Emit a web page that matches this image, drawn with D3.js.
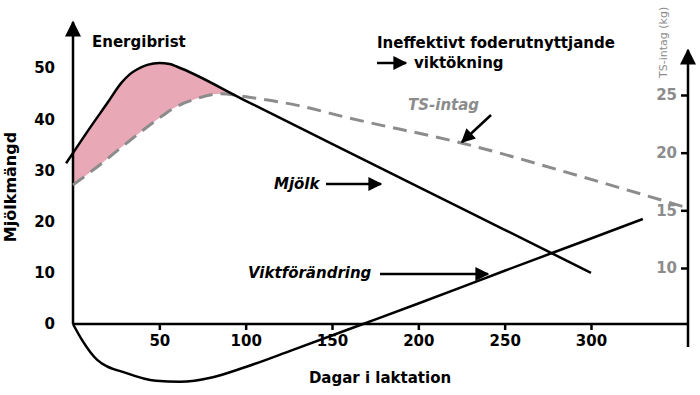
<!DOCTYPE html>
<html><head><meta charset="utf-8">
<script src="https://cdn.jsdelivr.net/npm/d3@7"></script>
<style>
body{margin:0;background:#fff;}
svg{display:block;font-family:"DejaVu Sans",sans-serif;}
</style></head>
<body>
<svg id="c" width="700" height="395"></svg>
<script>
// ---- data ----
const xTicks = [50,100,150,200,250,300];
const yLeftTicks = [0,10,20,30,40,50];
const yRightTicks = [10,15,20,25];
// Milk yield (left axis), [day, value]
const milkDays   = [-4, 0, 10, 20, 28, 33, 37, 43, 50, 56, 60, 100, 150, 200, 250, 300];
const milkValues = [31.4, 33.4, 38.4, 43.2, 47.1, 48.8, 49.7, 50.6, 51.0, 50.8, 50.3, 43.6, 35.2, 26.8, 18.4, 10];
// Dry matter intake (right axis, kg)
const tsDays   = [0, 16, 30, 50, 60, 70, 85, 102, 130, 160, 226, 295, 354];
const tsValues = [17.2, 19.0, 20.7, 23.0, 24.0, 24.6, 25.1, 24.8, 24.1, 23.0, 20.8, 17.9, 15.3];
// Weight change (left axis units)
const wDays   = [0, 5, 14, 31, 48, 62, 81, 100, 127, 168, 200, 250, 300, 330];
const wValues = [0, -3.0, -7.0, -9.6, -11.1, -11.3, -10.4, -8.4, -5.1, 0, 4.0, 10.4, 16.7, 20.5];

const svg = d3.select("#c");
const x  = d3.scaleLinear().domain([0,300]).range([73,591]);
const yL = d3.scaleLinear().domain([0,50]).range([324,68]);
const yR = d3.scaleLinear().domain([10,25]).range([268,95]);
const gray = "#8c8c8c";

const defs = svg.append("defs");
function marker(id, color, w, h){
  defs.append("marker").attr("id",id).attr("viewBox","0 0 10 10")
    .attr("refX",9).attr("refY",5).attr("markerWidth",w).attr("markerHeight",h)
    .attr("markerUnits","userSpaceOnUse").attr("orient","auto")
    .append("path").attr("d","M0,0L10,5L0,10Z").attr("fill",color);
}
marker("ah","#000",16,14);
marker("axh","#000",18,16);

const milk = milkDays.map((d,i)=>[d,milkValues[i]]);
const ts   = tsDays.map((d,i)=>[d,tsValues[i]]);
const wt   = wDays.map((d,i)=>[d,wValues[i]]);

// pink area between milk (upper) and TS intake (lower)
defs.append("clipPath").attr("id","belowMilk").append("path")
  .attr("d", d3.area().x(d=>x(d[0])).y0(400).y1(d=>yL(d[1])).curve(d3.curveMonotoneX)(milk));
svg.append("path").attr("clip-path","url(#belowMilk)")
  .attr("d", d3.area().x(d=>x(d[0])).y0(0).y1(d=>yR(d[1])).curve(d3.curveMonotoneX)(ts.filter(d=>d[0]<=102)))
  .attr("fill","#e8a8b6");

// axes
const gx = svg.append("g").attr("transform","translate(0,324)")
  .call(d3.axisBottom(x).tickValues(xTicks).tickSize(6).tickPadding(5));
gx.select(".domain").remove();
svg.append("line").attr("x1",73).attr("x2",688).attr("y1",324).attr("y2",324).attr("stroke","#000").attr("stroke-width",2.5);

const gl = svg.append("g").attr("transform","translate(73,0)")
  .call(d3.axisLeft(yL).tickValues(yLeftTicks).tickSize(0).tickPadding(18));
gl.select(".domain").remove();
svg.append("line").attr("x1",73).attr("x2",73).attr("y1",324).attr("y2",22)
  .attr("stroke","#000").attr("stroke-width",2.5).attr("marker-end","url(#axh)");

const gr = svg.append("g").attr("transform","translate(688,0)")
  .call(d3.axisLeft(yR).tickValues(yRightTicks).tickSize(7).tickPadding(4));
gr.select(".domain").remove();
svg.append("line").attr("x1",688).attr("x2",688).attr("y1",347).attr("y2",50)
  .attr("stroke","#000").attr("stroke-width",2.5).attr("marker-end","url(#axh)");

[gx,gl,gr].forEach(g=>{
  g.selectAll("text").attr("font-family","DejaVu Sans").attr("font-weight","bold").attr("font-size",15);
  g.selectAll(".tick line").attr("stroke","#000").attr("stroke-width",2.5);
});
gr.selectAll("text").attr("fill",gray);

// curves
svg.append("path").attr("d", d3.line().x(d=>x(d[0])).y(d=>yR(d[1])).curve(d3.curveMonotoneX)(ts))
  .attr("fill","none").attr("stroke",gray).attr("stroke-width",3).attr("stroke-dasharray","14,8");
svg.append("path").attr("d", d3.line().x(d=>x(d[0])).y(d=>yL(d[1])).curve(d3.curveMonotoneX)(milk))
  .attr("fill","none").attr("stroke","#000").attr("stroke-width",2.5);
svg.append("path").attr("d", d3.line().x(d=>x(d[0])).y(d=>yL(d[1])).curve(d3.curveMonotoneX)(wt))
  .attr("fill","none").attr("stroke","#000").attr("stroke-width",2.5);

// titles / labels
function txt(s, xx, yy, opt={}){
  return svg.append("text").attr("x",xx).attr("y",yy).text(s)
    .attr("font-size",opt.size||15).attr("font-weight",opt.weight||"bold")
    .attr("font-style",opt.style||"normal").attr("fill",opt.fill||"#000")
    .attr("text-anchor",opt.anchor||"start");
}
txt("Energibrist", 92, 47);
txt("Ineffektivt foderutnyttjande", 377, 48);
txt("viktökning", 414, 68);
svg.append("line").attr("x1",377).attr("x2",406).attr("y1",63).attr("y2",63).attr("stroke","#000").attr("stroke-width",2.5).attr("marker-end","url(#ah)");
txt("TS-intag", 408, 110, {style:"italic", fill:gray});
svg.append("line").attr("x1",491).attr("y1",115).attr("x2",462).attr("y2",142).attr("stroke","#000").attr("stroke-width",2.5).attr("marker-end","url(#ah)");
txt("Mjölk", 274, 189, {style:"italic"});
svg.append("line").attr("x1",326).attr("x2",381).attr("y1",184).attr("y2",184).attr("stroke","#000").attr("stroke-width",2.5).attr("marker-end","url(#ah)");
txt("Viktförändring", 248, 278, {style:"italic"});
svg.append("line").attr("x1",380).attr("x2",488).attr("y1",274).attr("y2",274).attr("stroke","#000").attr("stroke-width",2.5).attr("marker-end","url(#ah)");
txt("Dagar i laktation", 380, 383, {anchor:"middle"});
svg.append("text").attr("transform","translate(16,187) rotate(-90)").attr("text-anchor","middle")
  .attr("font-size",16).attr("font-weight","bold").text("Mjölkmängd");
svg.append("text").attr("transform","translate(667,78) rotate(-90)").attr("text-anchor","start")
  .attr("font-size",11).attr("fill",gray).text("TS-intag (kg)");
</script>
</body></html>
